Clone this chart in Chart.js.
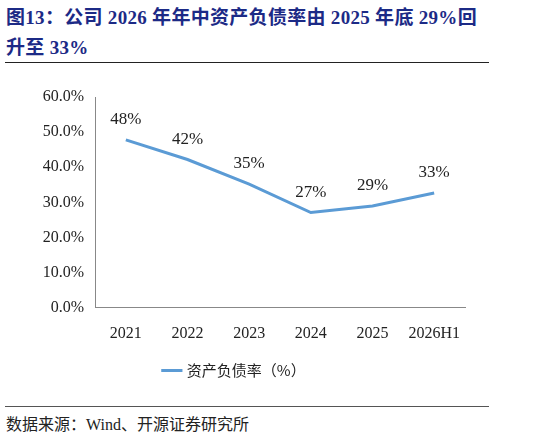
<!DOCTYPE html>
<html><head><meta charset="utf-8">
<script src="https://cdn.jsdelivr.net/npm/chart.js@4"></script>
<style>
body{margin:0;width:551px;height:438px;background:#fff;position:relative;overflow:hidden;font-family:"Liberation Serif","Noto Sans CJK SC",serif}
#t{position:absolute;left:6px;top:3px;width:500px;color:#1c2a86;font-weight:bold;font-size:19px;line-height:30px;white-space:nowrap;letter-spacing:0.3px}
#l1{position:absolute;left:5px;top:62px;width:484px;border-top:1.5px solid #222}
#l2{position:absolute;left:5px;top:406px;width:484px;border-top:1.5px solid #555}
#f{position:absolute;left:6px;top:411px;font-size:16px;color:#222}
#c{position:absolute;left:5px;top:70px}
</style></head><body>
<div id="t">图13：公司 2026 年年中资产负债率由 2025 年底 29%回<br>升至 33%</div>
<div id="l1"></div>
<div id="c"><canvas id="cv" width="484" height="330" style="width:484px;height:330px"></canvas></div>
<div id="l2"></div>
<div id="f">数据来源：Wind、开源证券研究所</div>
<script>
const categories=["2021","2022","2023","2024","2025","2026H1"];
const debtRatio=[47.8,42.2,35.2,27.1,29.0,32.7];
const valueLabels=["48%","42%","35%","27%","29%","33%"];
const tickFont={family:"Liberation Serif",size:16};
const labelPlugin={id:"lbl",afterDatasetsDraw(ch){const c=ch.ctx;const m=ch.getDatasetMeta(0);c.save();c.font="17px Liberation Serif";c.fillStyle="#222";c.textAlign="center";c.textBaseline="bottom";m.data.forEach((p,i)=>c.fillText(valueLabels[i],p.x,p.y-12));c.restore();}};
new Chart(document.getElementById("cv"),{type:"line",
data:{labels:categories,datasets:[{label:"资产负债率（%）",data:debtRatio,borderColor:"#5b9bd5",backgroundColor:"#5b9bd5",borderWidth:3,pointRadius:0,tension:0}]},
options:{responsive:false,animation:false,layout:{padding:{top:27,right:24,bottom:12}},
plugins:{legend:{position:"bottom",labels:{usePointStyle:true,pointStyle:"line",boxWidth:40,color:"#222",font:{family:"Noto Sans CJK SC",size:15},padding:12}},tooltip:{enabled:false}},
scales:{x:{offset:true,grid:{display:false},border:{color:"#888"},ticks:{color:"#222",font:tickFont,padding:8}},
y:{min:0,max:60,grid:{display:false},border:{color:"#888"},afterFit(s){s.width=90;},ticks:{stepSize:10,color:"#222",font:tickFont,callback:v=>v.toFixed(1)+"%"}}}},
plugins:[labelPlugin]});
</script></body></html>
